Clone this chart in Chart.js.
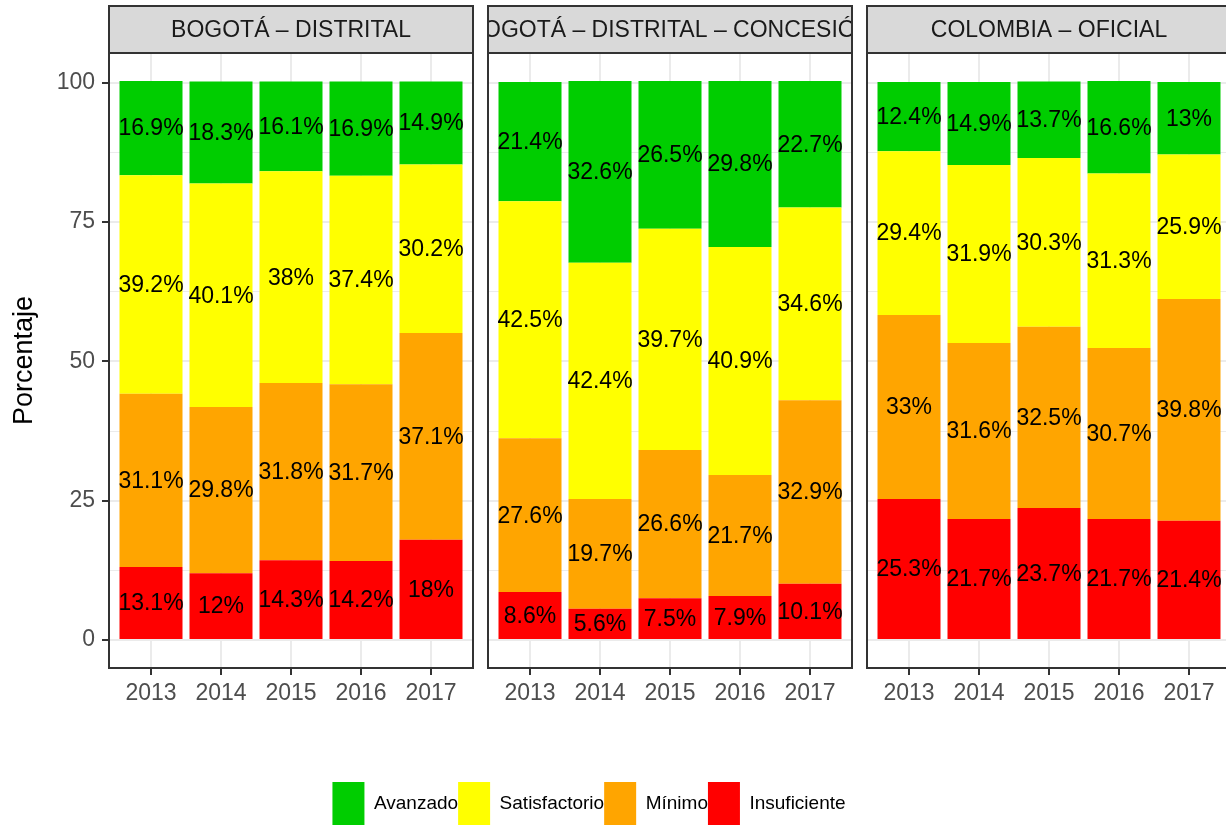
<!DOCTYPE html>
<html>
<head>
<meta charset="utf-8">
<script src="https://cdn.jsdelivr.net/npm/chart.js@4.4.1/dist/chart.umd.min.js"></script>
<style>
  html, body { margin: 0; padding: 0; background: #fff; overflow: hidden; width: 1226px; height: 825px; }
  canvas { position: absolute; }
  #p1 { left: 0; top: 5px; }
  #p2 { left: 486px; top: 5px; }
  #p3 { left: 865px; top: 5px; }
  #legend { left: 289px; top: 782px; }
</style>
</head>
<body>
<canvas id="p1" width="475" height="708"></canvas>
<canvas id="p2" width="368" height="708"></canvas>
<canvas id="p3" width="368" height="708"></canvas>
<canvas id="legend" width="600" height="130"></canvas>
<script>
// categories
const years = [2013, 2014, 2015, 2016, 2017];
// stack order, bottom to top
const levels = ['Insuficiente', 'Mínimo', 'Satisfactorio', 'Avanzado'];
const levelColors = ['#FF0000', '#FFA500', '#FFFF00', '#00CD00'];
const panelTitles = ['BOGOTÁ – DISTRITAL', 'BOGOTÁ – DISTRITAL – CONCESIÓN', 'COLOMBIA – OFICIAL'];

// percentages per level, one value per year
const distritalInsuficiente = [13.1, 12, 14.3, 14.2, 18];
const distritalMinimo = [31.1, 29.8, 31.8, 31.7, 37.1];
const distritalSatisfactorio = [39.2, 40.1, 38, 37.4, 30.2];
const distritalAvanzado = [16.9, 18.3, 16.1, 16.9, 14.9];

const concesionInsuficiente = [8.6, 5.6, 7.5, 7.9, 10.1];
const concesionMinimo = [27.6, 19.7, 26.6, 21.7, 32.9];
const concesionSatisfactorio = [42.5, 42.4, 39.7, 40.9, 34.6];
const concesionAvanzado = [21.4, 32.6, 26.5, 29.8, 22.7];

const colombiaInsuficiente = [25.3, 21.7, 23.7, 21.7, 21.4];
const colombiaMinimo = [33, 31.6, 32.5, 30.7, 39.8];
const colombiaSatisfactorio = [29.4, 31.9, 30.3, 31.3, 25.9];
const colombiaAvanzado = [12.4, 14.9, 13.7, 16.6, 13];

const panels = [
  [distritalInsuficiente, distritalMinimo, distritalSatisfactorio, distritalAvanzado],
  [concesionInsuficiente, concesionMinimo, concesionSatisfactorio, concesionAvanzado],
  [colombiaInsuficiente, colombiaMinimo, colombiaSatisfactorio, colombiaAvanzado]
];

// shared y range over all facets, with 5% room on both ends
let maxStack = 0;
panels.forEach(series => years.forEach((_, j) => {
  maxStack = Math.max(maxStack, series.reduce((s, arr) => s + arr[j], 0));
}));
const yMin = -0.05 * maxStack;
const yMax = maxStack * 1.05;

const FONT = '"Liberation Sans", Arial, Helvetica, sans-serif';
const STRIP_H = 47;

// strip, panel border and the value labels
const facetPlugin = {
  id: 'facet',
  afterDatasetsDraw(chart) {
    const ctx = chart.ctx;
    ctx.save();
    ctx.font = '23px ' + FONT;
    ctx.fillStyle = '#000';
    ctx.textAlign = 'center';
    ctx.textBaseline = 'middle';
    chart.data.datasets.forEach((ds, i) => {
      chart.getDatasetMeta(i).data.forEach((bar, j) => {
        const p = bar.getProps(['x', 'y', 'base'], true);
        ctx.fillText(ds.data[j].y + '%', p.x, (p.y + p.base) / 2 + 1);
      });
    });
    ctx.restore();
  },
  afterDraw(chart, args, opts) {
    const ctx = chart.ctx;
    const a = chart.chartArea;
    const top = a.top - STRIP_H;
    const w = a.right - a.left;
    ctx.save();
    ctx.fillStyle = '#D9D9D9';
    ctx.fillRect(a.left, top, w, STRIP_H);
    ctx.save();
    ctx.beginPath();
    ctx.rect(a.left + 1, top + 1, w - 2, STRIP_H - 2);
    ctx.clip();
    ctx.fillStyle = '#1A1A1A';
    ctx.font = '23px ' + FONT;
    ctx.textAlign = 'center';
    ctx.textBaseline = 'middle';
    ctx.fillText(opts.title, (a.left + a.right) / 2, top + STRIP_H / 2 + 1);
    ctx.restore();
    ctx.lineWidth = 2;
    ctx.strokeStyle = '#333333';
    ctx.strokeRect(a.left, top, w, STRIP_H);
    ctx.strokeRect(a.left, a.top, w, a.bottom - a.top);
    ctx.restore();
  }
};

const isMajor = v => Math.abs(v % 25) < 1e-6;

function makePanel(id, title, series, showY) {
  const datasets = levels.map((lvl, i) => ({
    label: lvl,
    data: years.map((yr, j) => ({ x: yr, y: series[i][j] })),
    backgroundColor: levelColors[i],
    borderWidth: 0,
    barPercentage: 0.9,
    categoryPercentage: 1
  }));

  return new Chart(document.getElementById(id), {
    type: 'bar',
    data: { datasets },
    options: {
      responsive: false,
      animation: false,
      layout: { padding: { top: 48, right: 2, left: showY ? 0 : 2, bottom: 0 } },
      plugins: {
        legend: { display: false },
        tooltip: { enabled: false },
        facet: { title }
      },
      scales: {
        x: {
          type: 'linear',
          stacked: true,
          offset: false,
          min: 2012.4,
          max: 2017.6,
          border: { display: false },
          grid: { offset: false, color: '#EBEBEB', lineWidth: 2, tickColor: '#333333', tickWidth: 2, tickLength: 7 },
          ticks: {
            stepSize: 1, includeBounds: false, autoSkip: false, maxRotation: 0,
            padding: 5, color: '#4D4D4D', font: { size: 23, family: FONT },
            callback: v => String(v)
          },
          afterFit: s => { s.height = 45; s.paddingLeft = 0; s.paddingRight = 0; }
        },
        y: {
          stacked: true,
          min: yMin,
          max: yMax,
          border: { display: false },
          grid: {
            color: '#EBEBEB',
            lineWidth: c => (c.tick && isMajor(c.tick.value) ? 2 : 1),
            drawTicks: showY,
            tickLength: 7,
            tickWidth: 2,
            tickColor: c => (c.tick && isMajor(c.tick.value) ? '#333333' : 'rgba(0,0,0,0)')
          },
          ticks: {
            display: showY, stepSize: 12.5, includeBounds: false, autoSkip: false,
            padding: 7, color: '#4D4D4D', font: { size: 23, family: FONT },
            callback: v => (isMajor(v) ? String(v) : '')
          },
          title: {
            display: showY, text: 'Porcentaje', color: '#000',
            font: { size: 27, family: FONT }, padding: { top: 8, bottom: 0 }
          },
          afterFit: s => { s.width = showY ? 109 : 0; s.paddingTop = 0; s.paddingBottom = 0; }
        }
      }
    },
    plugins: [facetPlugin]
  });
}

makePanel('p1', panelTitles[0], panels[0], true);
makePanel('p2', panelTitles[1], panels[1], false);
makePanel('p3', panelTitles[2], panels[2], false);

// shared legend
new Chart(document.getElementById('legend'), {
  type: 'bar',
  data: {
    labels: [],
    datasets: levels.map((lvl, i) => ({ label: lvl, data: [], backgroundColor: levelColors[i], borderWidth: 0 }))
  },
  options: {
    responsive: false,
    animation: false,
    scales: { x: { display: false }, y: { display: false } },
    plugins: {
      tooltip: { enabled: false },
      legend: {
        position: 'top',
        reverse: true,
        labels: {
          boxWidth: 32, boxHeight: 43, padding: 0, color: '#000',
          font: { size: 19, family: FONT }
        }
      }
    }
  }
});
</script>
</body>
</html>
